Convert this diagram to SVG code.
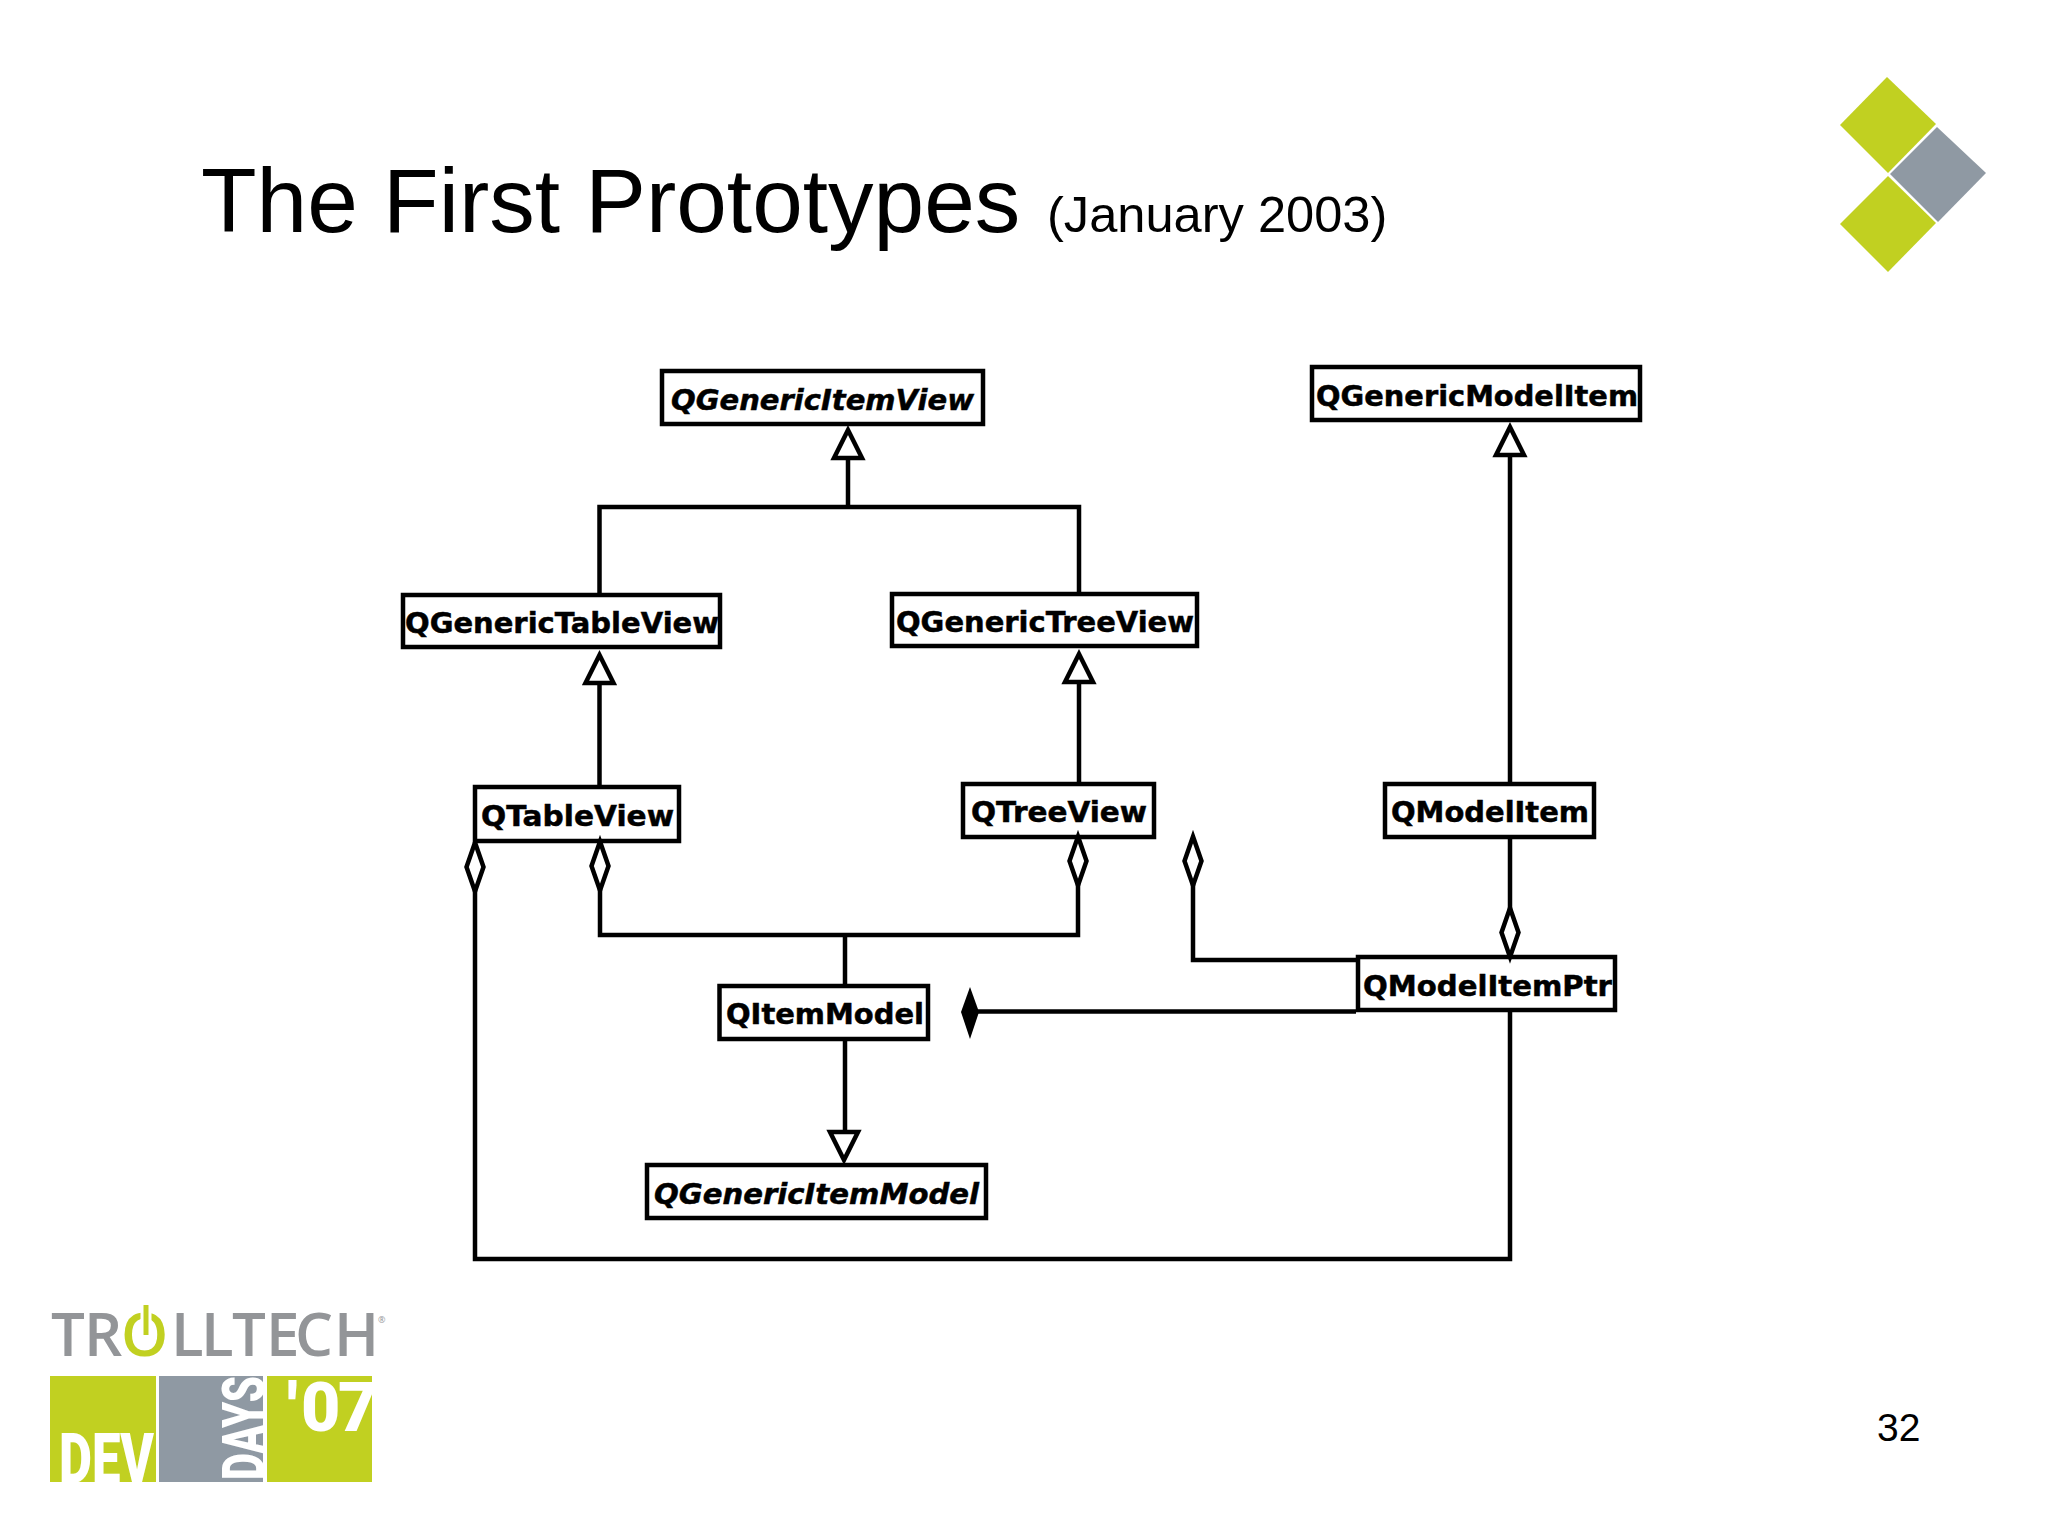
<svg xmlns="http://www.w3.org/2000/svg" width="2048" height="1536" viewBox="0 0 2048 1536">
<style>
.box{fill:#fff;stroke:#000;stroke-width:4.500}
.lbl{font-family:"DejaVu Sans",sans-serif;font-weight:700;font-size:28px;fill:#000;stroke:#000;stroke-width:.5}
.it{font-style:italic}
.ln{fill:none;stroke:#000;stroke-width:4.500}
.head{fill:#fff;stroke:#000;stroke-width:4.500;stroke-miterlimit:10}
.title{font-family:"Liberation Sans",Arial,sans-serif;fill:#000}
.green{fill:#c1d021}
.gray{fill:#8f99a3}
.logo{font-family:"Open Sans",sans-serif;font-weight:600;font-size:60px;fill:#939598}
.cut{font-family:"Roboto",sans-serif;font-weight:900;fill:#fff}
</style>
<defs>
<path id="tri" class="head" d="M0,4 L-14,32 L14,32 Z"/>
<path id="dia" class="head" d="M0,-24.500 L8.500,0 L0,24.500 L-8.500,0 Z"/>
</defs>
<rect width="2048" height="1536" fill="#fff"/>
<g id="title">
<text class="title" x="201" y="232" font-size="91">The First Prototypes</text>
<text class="title" x="1047" y="232" font-size="50.600">(January 2003)</text>
</g>
<g id="corner-logo">
<polygon class="green" points="1887,77 1936,124 1888,173 1840,125"/>
<polygon class="gray" points="1937,127 1986,173 1938,222 1890,174"/>
<polygon class="green" points="1888,176 1936,223 1888,272 1840,224"/>
</g>
<g id="node-QGenericItemView"><rect class="box" x="662" y="371" width="321" height="53"/><text class="lbl it" x="671" y="409.500" textLength="303" lengthAdjust="spacingAndGlyphs">QGenericItemView</text></g>
<g id="node-QGenericModelItem"><rect class="box" x="1312" y="367" width="328" height="53"/><text class="lbl" x="1316" y="406" textLength="322" lengthAdjust="spacingAndGlyphs">QGenericModelItem</text></g>
<g id="node-QGenericTableView"><rect class="box" x="403" y="595" width="317" height="52"/><text class="lbl" x="405" y="633" textLength="314" lengthAdjust="spacingAndGlyphs">QGenericTableView</text></g>
<g id="node-QGenericTreeView"><rect class="box" x="892" y="594" width="305" height="52"/><text class="lbl" x="896" y="631.500" textLength="298" lengthAdjust="spacingAndGlyphs">QGenericTreeView</text></g>
<g id="node-QTableView"><rect class="box" x="475" y="787" width="204" height="54"/><text class="lbl" x="481" y="826" textLength="193" lengthAdjust="spacingAndGlyphs">QTableView</text></g>
<g id="node-QTreeView"><rect class="box" x="963" y="784" width="191" height="53"/><text class="lbl" x="971" y="822" textLength="176" lengthAdjust="spacingAndGlyphs">QTreeView</text></g>
<g id="node-QModelItem"><rect class="box" x="1385" y="784" width="209" height="53"/><text class="lbl" x="1391" y="822" textLength="198" lengthAdjust="spacingAndGlyphs">QModelItem</text></g>
<g id="node-QModelItemPtr"><rect class="box" x="1358" y="957" width="257" height="53"/><text class="lbl" x="1363" y="996" textLength="249" lengthAdjust="spacingAndGlyphs">QModelItemPtr</text></g>
<g id="node-QItemModel"><rect class="box" x="719.500" y="986" width="208.500" height="53"/><text class="lbl" x="726" y="1024" textLength="198" lengthAdjust="spacingAndGlyphs">QItemModel</text></g>
<g id="node-QGenericItemModel"><rect class="box" x="647" y="1165" width="339" height="53"/><text class="lbl it" x="654" y="1203.500" textLength="325" lengthAdjust="spacingAndGlyphs">QGenericItemModel</text></g>
<g id="connectors">
<path class="ln" d="M848,450 V507"/>
<path class="ln" d="M599.500,594 V507 H1079 V592"/>
<path class="ln" d="M599.500,675 V785"/>
<path class="ln" d="M1079,675 V782"/>
<path class="ln" d="M1510,447 V782"/>
<path class="ln" d="M1510,839 V910"/>
<path class="ln" d="M475,886 V1259 H1510 V1012"/>
<path class="ln" d="M600,886 V935 H1078 V882"/>
<path class="ln" d="M845,935 V984"/>
<path class="ln" d="M845,1041 V1140"/>
<path class="ln" d="M1193,882 V960 H1356"/>
<path class="ln" d="M975,1011.500 H1356"/>
<use href="#tri" x="848" y="426"/>
<use href="#tri" x="599.500" y="651"/>
<use href="#tri" x="1079" y="650"/>
<use href="#tri" x="1510" y="423"/>
<use href="#tri" transform="translate(844,1164) scale(1,-1)"/>
<use href="#dia" x="475" y="867"/>
<use href="#dia" x="600" y="866"/>
<use href="#dia" x="1078" y="861"/>
<use href="#dia" x="1193" y="861"/>
<use href="#dia" x="1510" y="932.500"/>
<polygon fill="#000" points="970,987 979,1012 970,1039 961,1012"/>
</g>
<g id="event-logo">
<text class="logo" y="1356" x="51 84 121 171 201 232 266 295 334">TR<tspan fill="#c1d021">O</tspan>LLTECH</text>
<path d="M146,1304 V1336" stroke="#fff" stroke-width="11" fill="none"/>
<path d="M146,1305 V1335" stroke="#c1d021" stroke-width="5" fill="none"/>
<text x="378" y="1323" font-family="Open Sans, sans-serif" font-size="9" fill="#939598">®</text>
<rect class="green" x="50" y="1376" width="106" height="106"/>
<rect class="gray" x="159" y="1376" width="104" height="106"/>
<rect class="green" x="267" y="1376" width="105" height="106"/>
<text class="cut" x="59" y="1483" font-size="70" textLength="95" lengthAdjust="spacingAndGlyphs">DEV</text>
<text class="cut" transform="translate(264,1480) rotate(-90)" x="0" y="0" font-size="60" textLength="104" lengthAdjust="spacingAndGlyphs">DAYS</text>
<text class="cut" y="1431" font-size="68" x="287 301 338">'07</text>
</g>
<text id="page-number" class="title" x="1877" y="1441" font-size="39">32</text>
</svg>
